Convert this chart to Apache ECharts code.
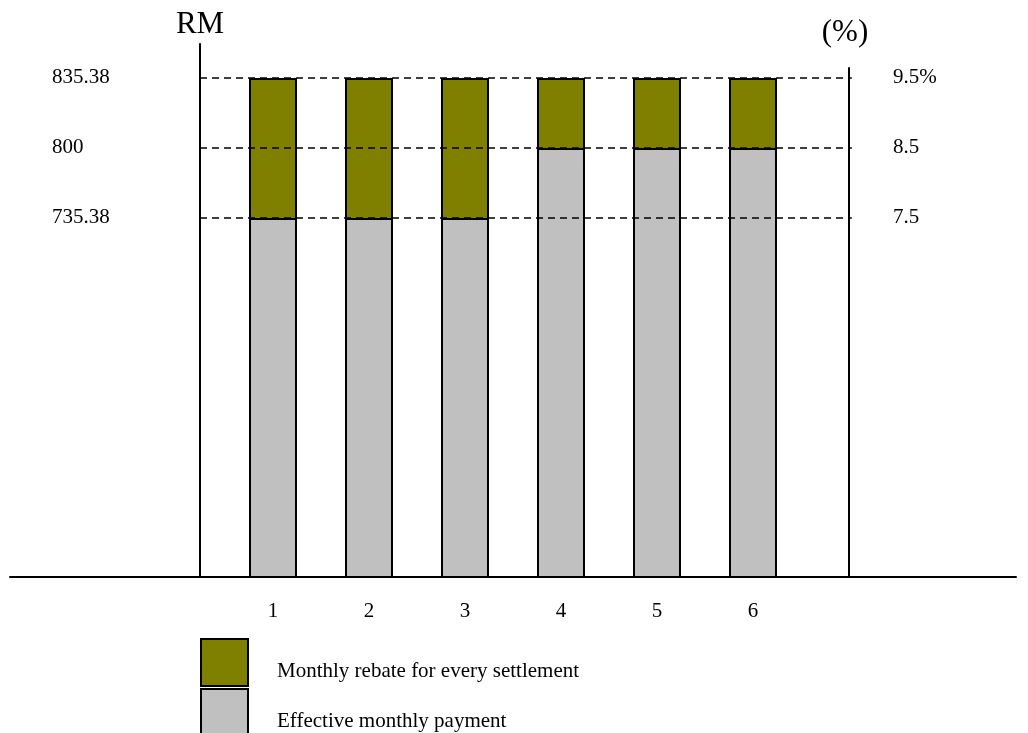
<!DOCTYPE html>
<html>
<head>
<meta charset="utf-8">
<script src="https://cdn.jsdelivr.net/npm/echarts@6/dist/echarts.min.js"></script>
<style>
  html, body { margin: 0; padding: 0; background: #fff; }
  #chart { width: 1028px; height: 733px; }
</style>
</head>
<body>
<div id="chart"></div>
<script>
// Settlement months and the rate split per month (%)
const months = [1, 2, 3, 4, 5, 6];
const effectiveRate = [7.5, 7.5, 7.5, 8.5, 8.5, 8.5];
const rebateRate = [2, 2, 2, 1, 1, 1];

// Reference levels: rate (%) and the matching monthly amount (RM)
const levelRates = [7.5, 8.5, 9.5];
const levelRM = ['735.38', '800', '835.38'];
const levelPct = ['7.5', '8.5', '9.5%'];

const seriesNames = ['Monthly rebate for every settlement', 'Effective monthly payment'];

const FONT = '"Liberation Serif", "DejaVu Serif", serif';

const chart = echarts.init(document.getElementById('chart'));

function labelFor(list) {
  return function (v) {
    const i = levelRates.findIndex(r => Math.abs(r - v) < 1e-6);
    return i >= 0 ? list[i] : '';
  };
}

// Full rate per month = effective part + rebate part (rebate sits on top)
const totalRate = effectiveRate.map((v, i) => v + rebateRate[i]);

const xRange = { min: -1.7396, max: 8.7396 };
const yMin = 2.371;
const leftEdge = 0.2396, rightEdge = 7.03;

chart.setOption({
  animation: false,
  backgroundColor: '#fff',
  textStyle: { fontFamily: FONT, color: '#000' },
  grid: [
    { left: 10, right: 12, top: 44, bottom: 156 },
    { left: 10, right: 12, top: 68, bottom: 156 }
  ],
  xAxis: [
    {
      type: 'value', gridIndex: 0, min: xRange.min, max: xRange.max,
      splitLine: { show: false },
      axisTick: { show: false },
      axisLine: { show: true, onZero: false, lineStyle: { color: '#000', width: 2 } },
      axisLabel: {
        customValues: months, margin: 24,
        fontFamily: FONT, fontSize: 21, color: '#000'
      }
    },
    {
      type: 'value', gridIndex: 1, min: xRange.min, max: xRange.max,
      show: false
    }
  ],
  yAxis: [
    {
      type: 'value', gridIndex: 0, position: 'left', offset: -190,
      min: yMin, max: yMin + 533 / 70,
      name: 'RM', nameLocation: 'end', nameGap: 4,
      nameTextStyle: { fontFamily: FONT, fontSize: 31, color: '#000', align: 'center' },
      splitLine: { show: false },
      axisTick: { show: false },
      axisLine: { show: true, onZero: false, lineStyle: { color: '#000', width: 2 } },
      axisLabel: {
        customValues: levelRates, formatter: labelFor(levelRM),
        align: 'left', margin: 148,
        fontFamily: FONT, fontSize: 21, color: '#000'
      }
    },
    {
      type: 'value', gridIndex: 1, position: 'right', offset: -167,
      min: yMin, max: yMin + 509 / 70,
      name: '(%)', nameLocation: 'end', nameGap: 20,
      nameTextStyle: { fontFamily: FONT, fontSize: 31, color: '#000', align: 'center', padding: [0, 8, 0, 0] },
      splitLine: { show: false },
      axisTick: { show: false },
      axisLine: { show: true, onZero: false, lineStyle: { color: '#000', width: 2 } },
      axisLabel: {
        customValues: levelRates, formatter: labelFor(levelPct),
        align: 'left', margin: 44,
        fontFamily: FONT, fontSize: 21, color: '#000'
      }
    }
  ],
  legend: {
    orient: 'vertical', left: 200, top: 638, height: 200,
    padding: 0,
    itemWidth: 47, itemHeight: 47, itemGap: 1,
    icon: 'rect',
    data: seriesNames,
    selectedMode: false,
    // an empty first line drops each legend label a little below its swatch centre
    formatter: name => '\n' + name,
    textStyle: { fontFamily: FONT, fontSize: 21, lineHeight: 18, color: '#000', padding: [0, 0, 0, 24] }
  },
  series: [
    {
      name: seriesNames[0], type: 'bar',
      xAxisIndex: 0, yAxisIndex: 0, barWidth: 48, barGap: '-100%',
      itemStyle: { color: '#808000', borderColor: '#000', borderWidth: 2 },
      data: months.map((m, i) => [m, totalRate[i]])
    },
    {
      name: seriesNames[1], type: 'bar',
      xAxisIndex: 0, yAxisIndex: 0, barWidth: 48, barGap: '-100%',
      itemStyle: { color: '#c0c0c0', borderColor: '#000', borderWidth: 2 },
      data: months.map((m, i) => [m, effectiveRate[i]]),
      markLine: {
        silent: true, symbol: 'none', z: 10,
        label: { show: false },
        lineStyle: { color: '#000', type: [7, 5], width: 1.5 },
        data: levelRates.map(r => [{ coord: [leftEdge, r] }, { coord: [rightEdge, r] }])
      }
    }
  ]
});
</script>
</body>
</html>
